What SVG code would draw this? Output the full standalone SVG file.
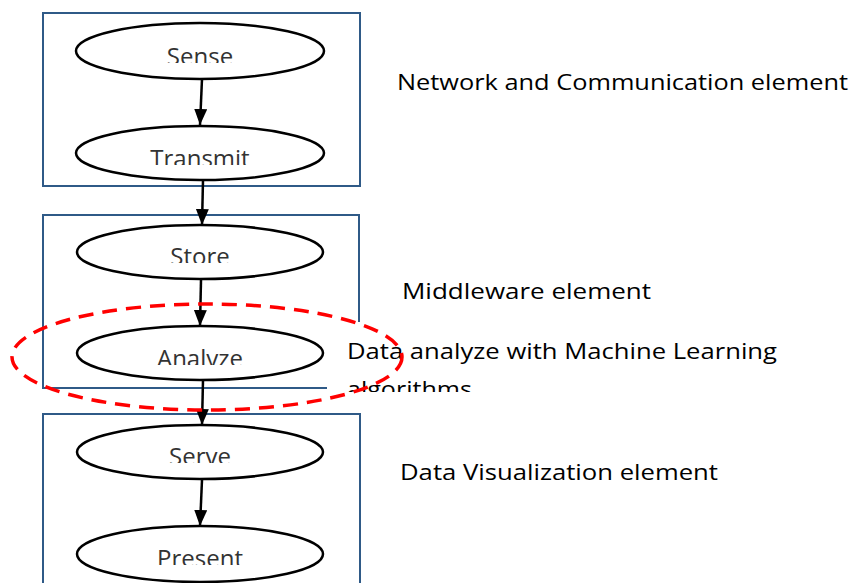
<svg xmlns="http://www.w3.org/2000/svg" width="865" height="583" viewBox="0 0 865 583">
<style>
.box{fill:none;stroke:#2f5a87;stroke-width:2}
.ell{fill:#fff;stroke:#000;stroke-width:2.5}
.lbl{font-family:"Open Sans","Liberation Sans",sans-serif;font-size:24px;fill:#333;text-anchor:middle}
.side{font-family:"Open Sans","Liberation Sans",sans-serif;font-size:21px;fill:#000}
.con{stroke:#000;stroke-width:2.5;fill:none;marker-end:url(#ah)}
</style>
<defs>
<marker id="ah" viewBox="0 0 16 13" refX="16" refY="6.5" markerWidth="16" markerHeight="13" markerUnits="userSpaceOnUse" orient="auto">
<path d="M0,0 L16,6.5 L0,13 Z" fill="#000"/>
</marker>
<clipPath id="c1"><rect x="0" y="0" width="865" height="63"/></clipPath>
<clipPath id="c2"><rect x="0" y="0" width="865" height="165"/></clipPath>
<clipPath id="c3"><rect x="0" y="0" width="865" height="263"/></clipPath>
<clipPath id="c4"><rect x="0" y="0" width="865" height="365"/></clipPath>
<clipPath id="c5"><rect x="0" y="0" width="865" height="463"/></clipPath>
<clipPath id="c6"><rect x="0" y="0" width="865" height="565"/></clipPath>
<clipPath id="ct"><rect x="327" y="322" width="520" height="70"/></clipPath>
</defs>
<rect class="box" x="43" y="13" width="317" height="173"/>
<path class="box" d="M359,322 V215 H43 V388 H327"/>
<rect class="box" x="43" y="414" width="317" height="190"/>
<g id="sense"><ellipse class="ell" cx="200" cy="51" rx="124" ry="28"/><text class="lbl" x="200" y="65" clip-path="url(#c1)">Sense</text></g>
<g id="transmit"><ellipse class="ell" cx="200" cy="153" rx="124" ry="27"/><text class="lbl" x="200" y="167" clip-path="url(#c2)">Transmit</text></g>
<g id="store"><ellipse class="ell" cx="200" cy="252" rx="123" ry="27"/><text class="lbl" x="200" y="265" clip-path="url(#c3)">Store</text></g>
<g id="analyze"><ellipse class="ell" cx="200" cy="353" rx="123" ry="27"/><text class="lbl" x="200" y="367" clip-path="url(#c4)">Analyze</text></g>
<g id="serve"><ellipse class="ell" cx="200" cy="452" rx="123" ry="27"/><text class="lbl" x="200" y="465" clip-path="url(#c5)">Serve</text></g>
<g id="present"><ellipse class="ell" cx="200" cy="554" rx="123" ry="28"/><text class="lbl" x="200" y="567" clip-path="url(#c6)">Present</text></g>
<g id="connectors">
<path class="con" d="M202,79 L200,125"/>
<path class="con" d="M203,180 L202,225"/>
<path class="con" d="M201,280 L200,326"/>
<path class="con" d="M203,380 L202,425"/>
<path class="con" d="M202,480 L200,526"/>
</g>
<g id="labels">
<text class="side" x="397" y="90" textLength="451" lengthAdjust="spacingAndGlyphs">Network and Communication element</text>
<text class="side" x="402" y="299" textLength="249" lengthAdjust="spacingAndGlyphs">Middleware element</text>
<text class="side" x="400" y="480" textLength="318" lengthAdjust="spacingAndGlyphs">Data Visualization element</text>
<g id="ml" clip-path="url(#ct)">
<rect x="327" y="322" width="520" height="70" fill="#fff"/>
<text class="side" x="347" y="359" textLength="430" lengthAdjust="spacingAndGlyphs">Data analyze with Machine Learning</text>
<text class="side" x="347" y="397" textLength="125" lengthAdjust="spacingAndGlyphs">algorithms</text>
</g>
</g>
<g id="highlight"><ellipse cx="207" cy="357" rx="195" ry="53" fill="none" stroke="#f00" stroke-width="3.5" stroke-dasharray="15,9"/></g>
</svg>
